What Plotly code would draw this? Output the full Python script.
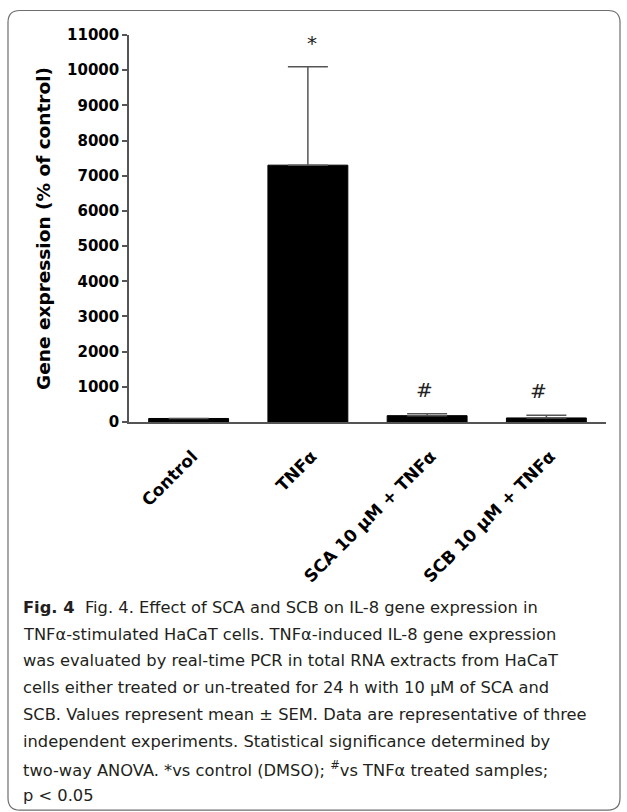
import plotly.graph_objects as go

# ---- data ----
categories = ["Control", "TNFα", "SCA 10 μM + TNFα", "SCB 10 μM + TNFα"]
means = [100, 7300, 180, 115]
sem = [0, 2800, 55, 75]
marks = ["", "*", "#", "#"]
y_ticks = list(range(0, 11001, 1000))
y_ticktext = [str(v) for v in y_ticks]
y_title = "Gene expression (% of control)"
caption_lines = [
    "<b>Fig. 4</b>\u00a0\u00a0Fig. 4. Effect of SCA and SCB on IL-8 gene expression in",
    "TNFα-stimulated HaCaT cells. TNFα-induced IL-8 gene expression",
    "was evaluated by real-time PCR in total RNA extracts from HaCaT",
    "cells either treated or un-treated for 24 h with 10 μM of SCA and",
    "SCB. Values represent mean ± SEM. Data are representative of three",
    "independent experiments. Statistical significance determined by",
    "two-way ANOVA. *vs control (DMSO); <sup>#</sup>vs TNFα treated samples;",
    "p < 0.05",
]

# ---- layout geometry (pixels) ----
W, H = 627, 812
L, R, T, B = 129, 21, 34.5, 390.3
pw = W - L - R
ph = H - T - B


def px(x):
    return (x - L) / pw


def py(y):
    return (H - B - y) / ph


AX = "#555555"
CHART_FONT = "DejaVu Sans"

fig = go.Figure()
fig.add_trace(go.Bar(
    x=categories,
    y=means,
    width=0.67,
    marker=dict(color="black", line=dict(color="black", width=1)),
    error_y=dict(type="data", array=sem, arrayminus=[0] * len(sem),
                 symmetric=False, color=AX, thickness=1.5, width=20),
    showlegend=False,
    hoverinfo="skip",
))

annotations = []
xshifts = [0, 4, -3, -8]
for c, m, s, t, xs in zip(categories, means, sem, marks, xshifts):
    if t:
        annotations.append(dict(
            x=c, y=m + s, xref="x", yref="y", text=t, showarrow=False,
            yanchor="middle", yshift=24, xshift=xs,
            font=dict(family=CHART_FONT, size=20, color="#222222"),
        ))

for i, line in enumerate(caption_lines):
    base = 612 + 26.9 * i
    annotations.append(dict(
        x=px(21), y=py(base - 5), xref="paper", yref="paper",
        xanchor="left", yanchor="middle", text=line, showarrow=False,
        font=dict(family="DejaVu Sans", size=16.3, color="#231f20"),
    ))

# rounded border around the whole figure
x0, x1, y0, y1, rad = 8, 620, 10, 810, 12
pts = (
    f"M {px(x0 + rad)},{py(y0)} L {px(x1 - rad)},{py(y0)} "
    f"Q {px(x1)},{py(y0)} {px(x1)},{py(y0 + rad)} "
    f"L {px(x1)},{py(y1 - rad)} Q {px(x1)},{py(y1)} {px(x1 - rad)},{py(y1)} "
    f"L {px(x0 + rad)},{py(y1)} Q {px(x0)},{py(y1)} {px(x0)},{py(y1 - rad)} "
    f"L {px(x0)},{py(y0 + rad)} Q {px(x0)},{py(y0)} {px(x0 + rad)},{py(y0)} Z"
)
shapes = [dict(type="path", path=pts, xref="paper", yref="paper",
               line=dict(color="#6d6e71", width=1.2), layer="below")]

fig.update_layout(
    width=W, height=H,
    margin=dict(l=L, r=R, t=T, b=B, autoexpand=False),
    paper_bgcolor="white", plot_bgcolor="white",
    annotations=annotations, shapes=shapes,
)
fig.update_yaxes(
    range=[0, 11000], tickvals=y_ticks, ticktext=y_ticktext, ticks="outside",
    ticklen=5, tickwidth=1.5, tickcolor=AX, showline=True, linecolor=AX,
    linewidth=1.5, showgrid=False, zeroline=False,
    tickfont=dict(family=CHART_FONT, size=15, color="black", weight="bold"),
    title=dict(text=y_title, standoff=12,
               font=dict(family=CHART_FONT, size=18.5, color="black", weight="bold")),
)
fig.update_xaxes(
    range=[-0.5, 3.5], showline=True, linecolor=AX, linewidth=1.5, ticks="",
    tickangle=-45, showgrid=False, ticklabelstandoff=16, ticklabelshift=4,
    tickfont=dict(family=CHART_FONT, size=17, color="black", weight="bold"),
)

fig.write_html("out.html", config={"displayModeBar": False},
               post_script="document.body.style.margin='0';")
